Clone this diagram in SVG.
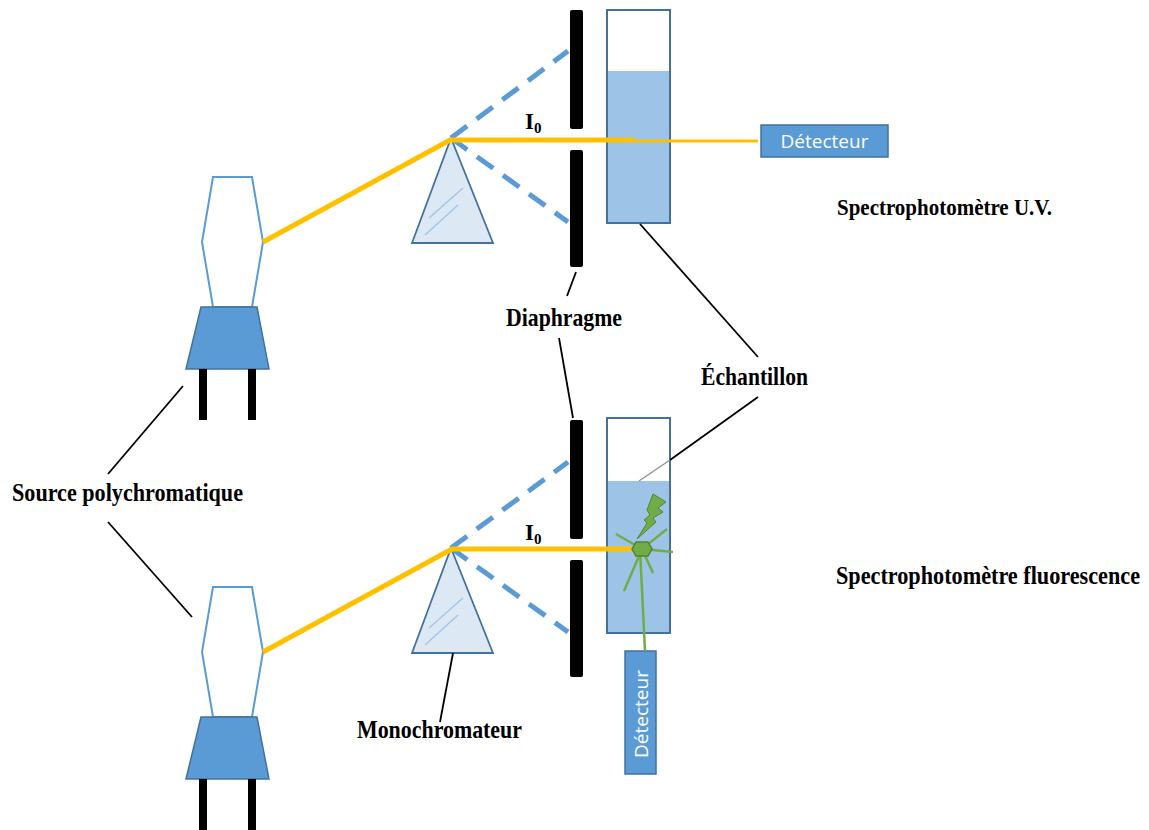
<svg xmlns="http://www.w3.org/2000/svg" width="1149" height="830" viewBox="0 0 1149 830">
  <style>
    .lbl { font-family: "Liberation Serif", "Times New Roman", serif; font-weight: bold; fill: #000; }
    .bulb { fill: #fff; stroke: #5b9bd5; stroke-width: 2; }
    .base { fill: #5b9bd5; stroke: #41719c; stroke-width: 1.5; }
    .leg { fill: #000; }
    .prism { fill: #dde8f5; stroke: #41719c; stroke-width: 1.8; }
    .glint { stroke: #9dc3e6; stroke-width: 1.2; fill: none; }
    .beam { stroke: #ffc000; stroke-width: 5; fill: none; stroke-linecap: butt; }
    .thin { stroke: #ffc000; stroke-width: 3; fill: none; }
    .dash { stroke: #5b9bd5; stroke-width: 5; fill: none; stroke-dasharray: 20 12; }
    .bar { fill: #000; }
    .cuv { fill: #fff; stroke: #41719c; stroke-width: 2; }
    .liq { fill: #9dc3e6; }
    .det { fill: #5b9bd5; stroke: #41719c; stroke-width: 1.5; }
    .dettxt { font-family: "Open Sans", "Liberation Sans", sans-serif; font-size: 19px; fill: #fff; }
    .conn { stroke: #000; stroke-width: 1.8; fill: none; }
    .ray { stroke: #70ad47; stroke-width: 2.5; fill: none; }
  </style>

  <defs>
    <!-- lamp: bulb, trapezoid base, two legs -->
    <g id="lamp">
      <polygon class="bulb" points="213,177 252,177 263,242 252,307 213,307 202,242"/>
      <polygon class="base" points="201,307 257,307 269,369 186,369"/>
      <rect class="leg" x="199" y="369" width="8" height="51"/>
      <rect class="leg" x="248" y="369" width="8" height="51"/>
    </g>
    <!-- dispersing prism -->
    <g id="prismShape">
      <polygon class="prism" points="451,138 493,243 412,243"/>
      <line class="glint" x1="429" y1="218" x2="463" y2="188"/>
      <line class="glint" x1="425" y1="235" x2="458" y2="205"/>
    </g>
    <!-- diaphragm with slit -->
    <g id="diaphragm">
      <rect class="bar" x="570" y="10" width="13" height="119" rx="2"/>
      <rect class="bar" x="570" y="150" width="13" height="117" rx="2"/>
    </g>
  </defs>

  <!-- U.V. spectrophotometer (top) -->
  <g id="source-uv"><use href="#lamp"/></g>
  <g id="mono-uv"><use href="#prismShape"/></g>
  <g id="diaphragm-uv"><use href="#diaphragm"/></g>
  <g id="cuvette-uv">
    <rect class="cuv" x="607" y="10" width="63" height="213"/>
    <rect class="liq" x="608" y="71" width="61" height="151"/>
    <rect x="607" y="10" width="63" height="213" fill="none" stroke="#41719c" stroke-width="2"/>
  </g>
  <g id="detector-uv">
    <rect class="det" x="761" y="125" width="127" height="32"/>
    <text class="dettxt" x="824.5" y="148" text-anchor="middle">Détecteur</text>
  </g>

  <!-- fluorescence spectrophotometer (bottom) -->
  <g id="source-fluo"><use href="#lamp" transform="translate(0,410)"/></g>
  <g id="mono-fluo"><use href="#prismShape" transform="translate(0,410)"/></g>
  <g id="diaphragm-fluo"><use href="#diaphragm" transform="translate(0,410)"/></g>
  <g id="cuvette-fluo">
    <rect class="cuv" x="607" y="418" width="63" height="215"/>
    <rect class="liq" x="608" y="481" width="61" height="151"/>
    <rect x="607" y="418" width="63" height="215" fill="none" stroke="#41719c" stroke-width="2"/>
  </g>
  <g id="detector-fluo">
    <rect class="det" x="625" y="651" width="31" height="123"/>
    <text class="dettxt" transform="translate(647.5,714) rotate(-90)" text-anchor="middle">Détecteur</text>
  </g>

  <!-- light paths and leader lines -->
  <g id="connectors">
    <!-- top beams -->
    <line class="dash" x1="451" y1="138" x2="568" y2="51"/>
    <line class="dash" x1="451" y1="138" x2="568" y2="222"/>
    <line class="beam" x1="263" y1="242" x2="452" y2="139"/>
    <line class="beam" x1="451" y1="140" x2="634" y2="140"/>
    <line class="thin" x1="634" y1="141" x2="758" y2="141"/>

    <!-- bottom beams -->
    <line class="dash" x1="451" y1="548" x2="568" y2="462"/>
    <line class="dash" x1="451" y1="548" x2="568" y2="632"/>
    <line class="beam" x1="263" y1="652" x2="452" y2="549"/>
    <line class="beam" x1="451" y1="549" x2="635" y2="549"/>

    <!-- fluorescence emission -->
    <line class="ray" x1="642" y1="549" x2="616" y2="534"/>
    <line class="ray" x1="642" y1="549" x2="667" y2="529"/>
    <line class="ray" x1="642" y1="549" x2="673" y2="552"/>
    <line class="ray" x1="642" y1="549" x2="653" y2="573"/>
    <line class="ray" x1="642" y1="549" x2="624" y2="591"/>
    <line class="ray" x1="640" y1="549" x2="645" y2="651"/>
    <polygon points="653,494 666,502 658,508 663,512 653,518 656,522 637,539 647,523 644,520 650,515 647,510" fill="#70ad47" stroke="#548235" stroke-width="1"/>
    <polygon points="632,549 636,542 648,542 652,549 648,556 636,556" fill="#70ad47" stroke="#548235" stroke-width="1.5"/>

    <!-- leader lines -->
    <line class="conn" x1="183" y1="386" x2="108" y2="474"/>
    <line class="conn" x1="108" y1="522" x2="192" y2="617"/>
    <line class="conn" x1="576" y1="272" x2="567" y2="296"/>
    <line class="conn" x1="559" y1="338" x2="573" y2="418"/>
    <line class="conn" x1="640" y1="224" x2="758" y2="357"/>
    <line class="conn" x1="758" y1="397" x2="670" y2="460"/>
    <line x1="670" y1="460" x2="639" y2="481" stroke="#8c8c8c" stroke-width="1.2"/>
    <line class="conn" x1="453" y1="653" x2="440" y2="722"/>
  </g>

  <!-- labels -->
  <g id="labels">
    <text class="lbl" x="525" y="129" font-size="23">I<tspan font-size="15" dy="4">0</tspan></text>
    <text class="lbl" x="525" y="540" font-size="23">I<tspan font-size="15" dy="4">0</tspan></text>
    <text class="lbl" x="837" y="215" font-size="23" textLength="215" lengthAdjust="spacingAndGlyphs">Spectrophotomètre U.V.</text>
    <text class="lbl" transform="translate(836 584) scale(1 1.18)" x="0" y="0" font-size="22" textLength="304" lengthAdjust="spacingAndGlyphs">Spectrophotomètre fluorescence</text>
    <text class="lbl" x="12" y="501" font-size="25" textLength="231" lengthAdjust="spacingAndGlyphs">Source polychromatique</text>
    <text class="lbl" x="506" y="326" font-size="25" textLength="116" lengthAdjust="spacingAndGlyphs">Diaphragme</text>
    <text class="lbl" x="701" y="385" font-size="25" textLength="107" lengthAdjust="spacingAndGlyphs">Échantillon</text>
    <text class="lbl" x="357" y="738" font-size="25" textLength="165" lengthAdjust="spacingAndGlyphs">Monochromateur</text>
  </g>
</svg>
